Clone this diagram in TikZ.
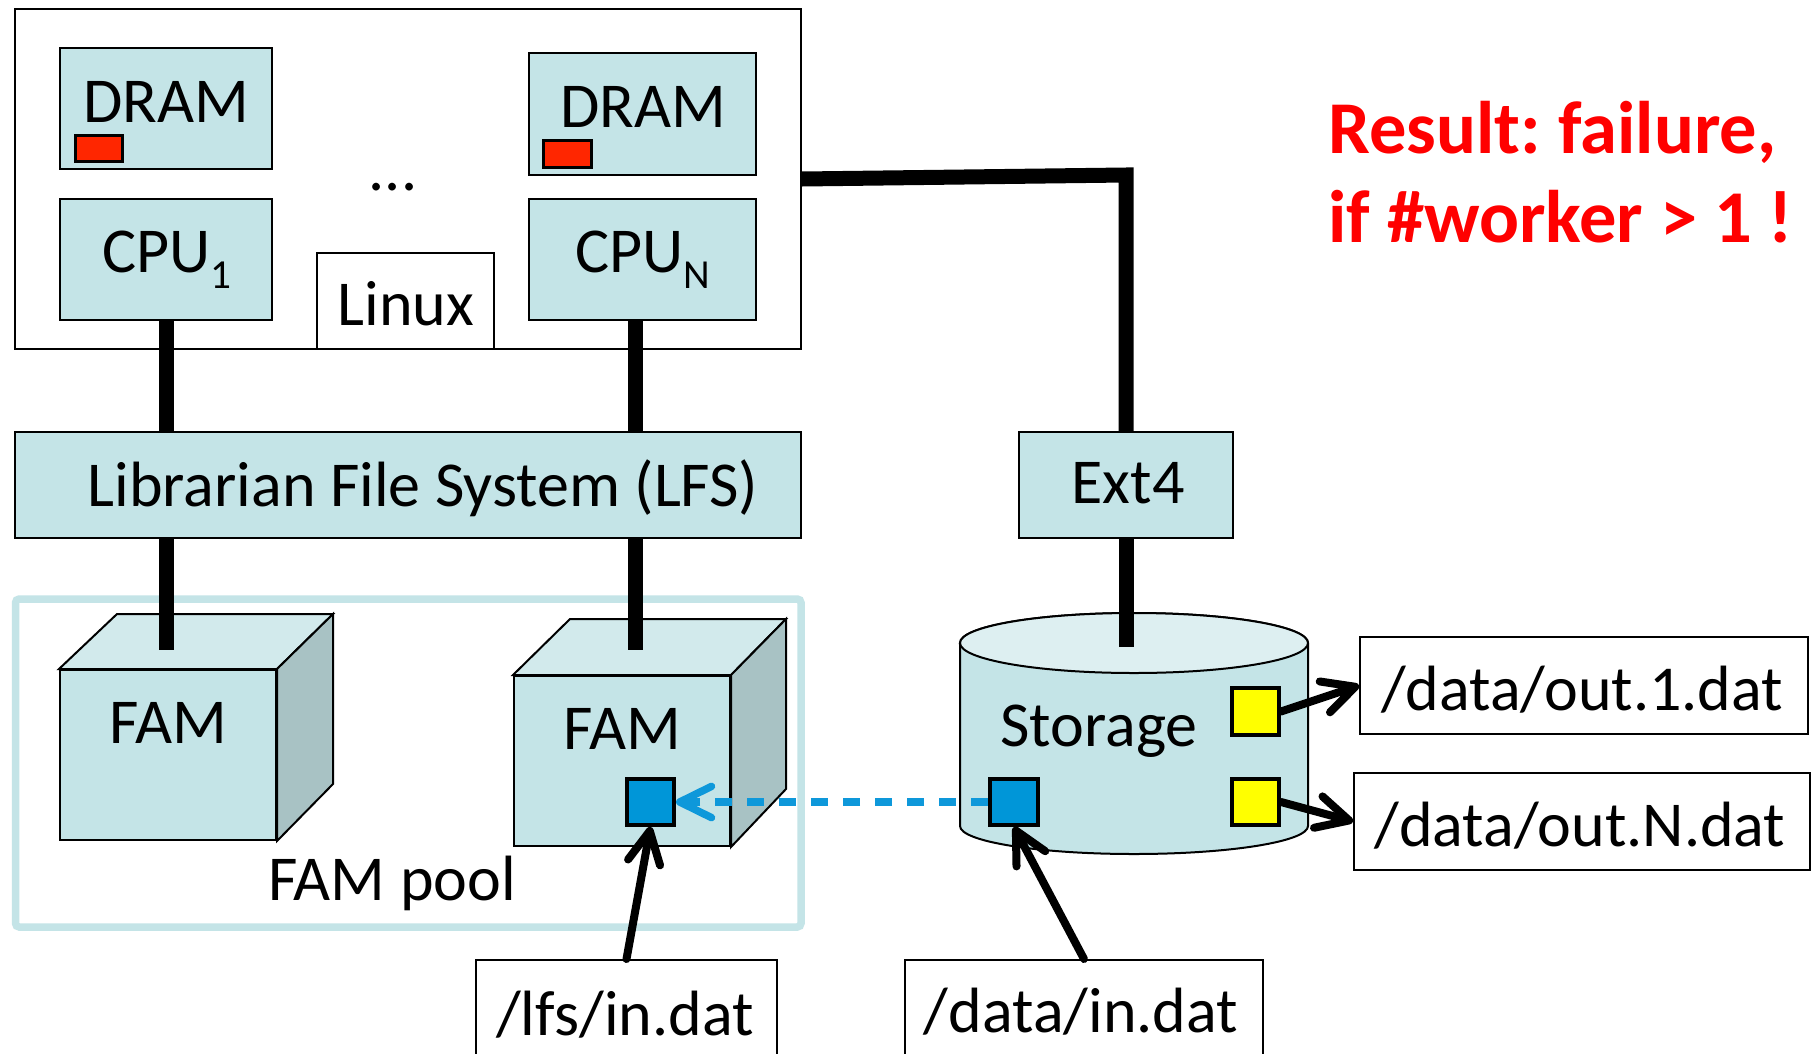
\documentclass[tikz,border=0pt]{standalone}
\usepackage{fontspec}
\setmainfont{Carlito}
\frenchspacing
\usetikzlibrary{arrows.meta,fit}
\definecolor{boxfill}{HTML}{C4E4E7}
\definecolor{cubetopc}{HTML}{D2EAEC}
\definecolor{cubesidec}{HTML}{A8C2C4}
\definecolor{cyltopc}{HTML}{DDEFF1}
\definecolor{poolc}{HTML}{C4E4E7}
\definecolor{redsq}{HTML}{FF2600}
\definecolor{bluesq}{HTML}{0096D8}
\definecolor{dashblue}{HTML}{0E98DA}
\definecolor{yelsq}{HTML}{FFFF00}
\definecolor{restxt}{HTML}{FF0000}
\begin{document}
\begin{tikzpicture}[x=0.4pt,y=-0.4pt,
  box/.style={draw=black, line width=0.8pt, fill=boxfill, inner sep=0pt},
  wbox/.style={draw=black, line width=0.8pt, fill=white, inner sep=0pt},
  txt/.style={font=\fontsize{25.6}{30}\selectfont, anchor=base, inner sep=0pt},
  redtxt/.style={font=\fontsize{29.8}{36}\selectfont\bfseries, text=restxt, anchor=base west, inner sep=0pt},
  bus/.style={line width=6pt, line join=miter},
  sqbox/.style={draw=black, line width=1.6pt, inner sep=0pt},
  arr/.style={line width=3.2pt, line cap=round, -{Straight Barb[length=12.8pt,width=13pt,line cap=round,line join=round]}},
  dasharr/.style={draw=dashblue, line width=3pt, dash pattern=on 7pt off 5.8pt, -{Straight Barb[length=12.7pt,width=12.5pt,line cap=round,line join=round]}},
  cubeface/.style={draw=black, line width=0.8pt}
]
\useasboundingbox (0,0) rectangle (1818,1053);
\clip (0,0) rectangle (1818,1053);
\fill[white] (0,0) rectangle (1818,1053);

% host box
\node[wbox, fit={(15,9)(801,349)}] (host) {};
\node[box, fit={(60,48)(272,169)}] (dram1) {};
\node[box, fit={(529,53)(756,175)}] (dramN) {};
\node[sqbox, fill=redsq, line width=1.2pt, fit={(75,135)(122,161)}] (red1) {};
\node[sqbox, fill=redsq, line width=1.2pt, fit={(543,140)(591,167)}] (redN) {};
\node[box, fit={(60,199)(272,320)}] (cpu1) {};
\node[box, fit={(529,199)(756,320)}] (cpuN) {};
\node[wbox, fit={(317,253)(494,349)}] (linux) {};
\node[txt] (tdram1) at (166,122) {DRAM};
\node[txt] (tdramN) at (643,127) {DRAM};
\node[txt] (tcpu1) at (167,272) {CPU\raisebox{-6.4pt}{\fontsize{16.5}{16.5}\selectfont 1}};
\node[txt] (tcpuN) at (643,272) {CPU\raisebox{-6.4pt}{\fontsize{16.5}{16.5}\selectfont N}};
\node[txt] (tlinux) at (406,325) {Linux};
\node[txt] (tdots) at (393,190) {...};

% file systems
\node[box, fit={(15,432)(801,538)}] (lfs) {};
\node[txt] (tlfs) at (423,506) {Librarian File System (LFS)};
\node[box, fit={(1019,432)(1233,538)}] (ext4) {};
\node[txt] (text4) at (1128,503) {Ext4};

% FAM pool
\node[draw=poolc, line width=3pt, rounded corners=1.5pt, inner sep=0pt, fit={(15.5,599)(801,927)}] (pool) {};
\node[txt] (tpool) at (392,900) {FAM pool};

% cube 1
\node[cubeface, fill=boxfill, inner sep=0pt, fit={(60,670)(276,840)}] (fam1) {};
\filldraw[cubeface, fill=cubetopc] (fam1.north west) -- (117,614) -- (333,614) -- (fam1.north east) -- cycle;
\filldraw[cubeface, fill=cubesidec] (fam1.north east) -- (333,614) -- (333,784) -- (fam1.south east) -- cycle;
\node[txt] (tfam1) at (168,743) {FAM};
% cube 2
\node[cubeface, fill=boxfill, inner sep=0pt, fit={(514,676)(730,846)}] (fam2) {};
\filldraw[cubeface, fill=cubetopc] (fam2.north west) -- (570,619) -- (786,619) -- (fam2.north east) -- cycle;
\filldraw[cubeface, fill=cubesidec] (fam2.north east) -- (786,619) -- (786,789) -- (fam2.south east) -- cycle;
\node[txt] (tfam2) at (622,749) {FAM};
\node[sqbox, fill=bluesq, fit={(627,779)(674,825)}] (bs1) {};

% storage cylinder
\filldraw[draw=black, line width=0.8pt, fill=boxfill]
  (960,643) -- (960,826) arc[start angle=180, end angle=360, x radius=69.6pt, y radius=11.2pt]
  -- (1308,643) arc[start angle=0, end angle=180, x radius=69.6pt, y radius=12pt] -- cycle;
\filldraw[draw=black, line width=0.8pt, fill=cyltopc] (1134,643) ellipse[x radius=69.6pt, y radius=12pt];
\node[txt] (tstorage) at (1099,746) {Storage};
\node[sqbox, fill=bluesq, fit={(990,779)(1038,825)}] (bs2) {};
\node[sqbox, fill=yelsq, fit={(1232,688)(1279,735)}] (ys1) {};
\node[sqbox, fill=yelsq, fit={(1232,779)(1279,825)}] (ys2) {};

% file name boxes
\node[wbox, fit={(1360,637)(1808,734)}] (out1) {};
\node[txt] (tout1) at (1582,710) {/data/out.1.dat};
\node[wbox, fit={(1354,773)(1810,870)}] (outN) {};
\node[txt] (toutN) at (1580,846) {/data/out.N.dat};
\node[wbox, fit={(476,960)(777,1090)}] (lfsin) {};
\node[txt] (tlfsin) at (625,1035) {/lfs/in.dat};
\node[wbox, fit={(905,960)(1263,1090)}] (datain) {};
\node[txt] (tdatain) at (1081,1032) {/data/in.dat};

% result text
\node[redtxt] (res1) at (1328,153) {Result: failure,};
\node[redtxt] (res2) at (1328,242) {if \#worker > 1 !};

% bus lines
\coordinate (x1) at (166,0);
\coordinate (x2) at (635,0);
\coordinate (famtop) at (0,650);
\coordinate (sttop) at (0,647);
\coordinate (bend) at (1126,175);
\draw[bus] (x1 |- cpu1.south) -- (x1 |- lfs.north);
\draw[bus] (x2 |- cpuN.south) -- (x2 |- lfs.north);
\draw[bus] (x1 |- lfs.south) -- (x1 |- famtop);
\draw[bus] (x2 |- lfs.south) -- (x2 |- famtop);
\draw[bus] (host.east) -- (bend) -- (ext4.north);
\draw[bus] (ext4.south) -- (ext4.south |- sttop);

% arrows
\draw[dasharr] (bs2.west) -- (bs1.east);
\draw[arr] (lfsin.north) -- (bs1.south);
\draw[arr] (datain.north) -- (bs2.south);
\draw[arr] (ys1.east) -- (out1.west);
\draw[arr] (ys2.east) -- (outN.west);
\end{tikzpicture}
\end{document}
